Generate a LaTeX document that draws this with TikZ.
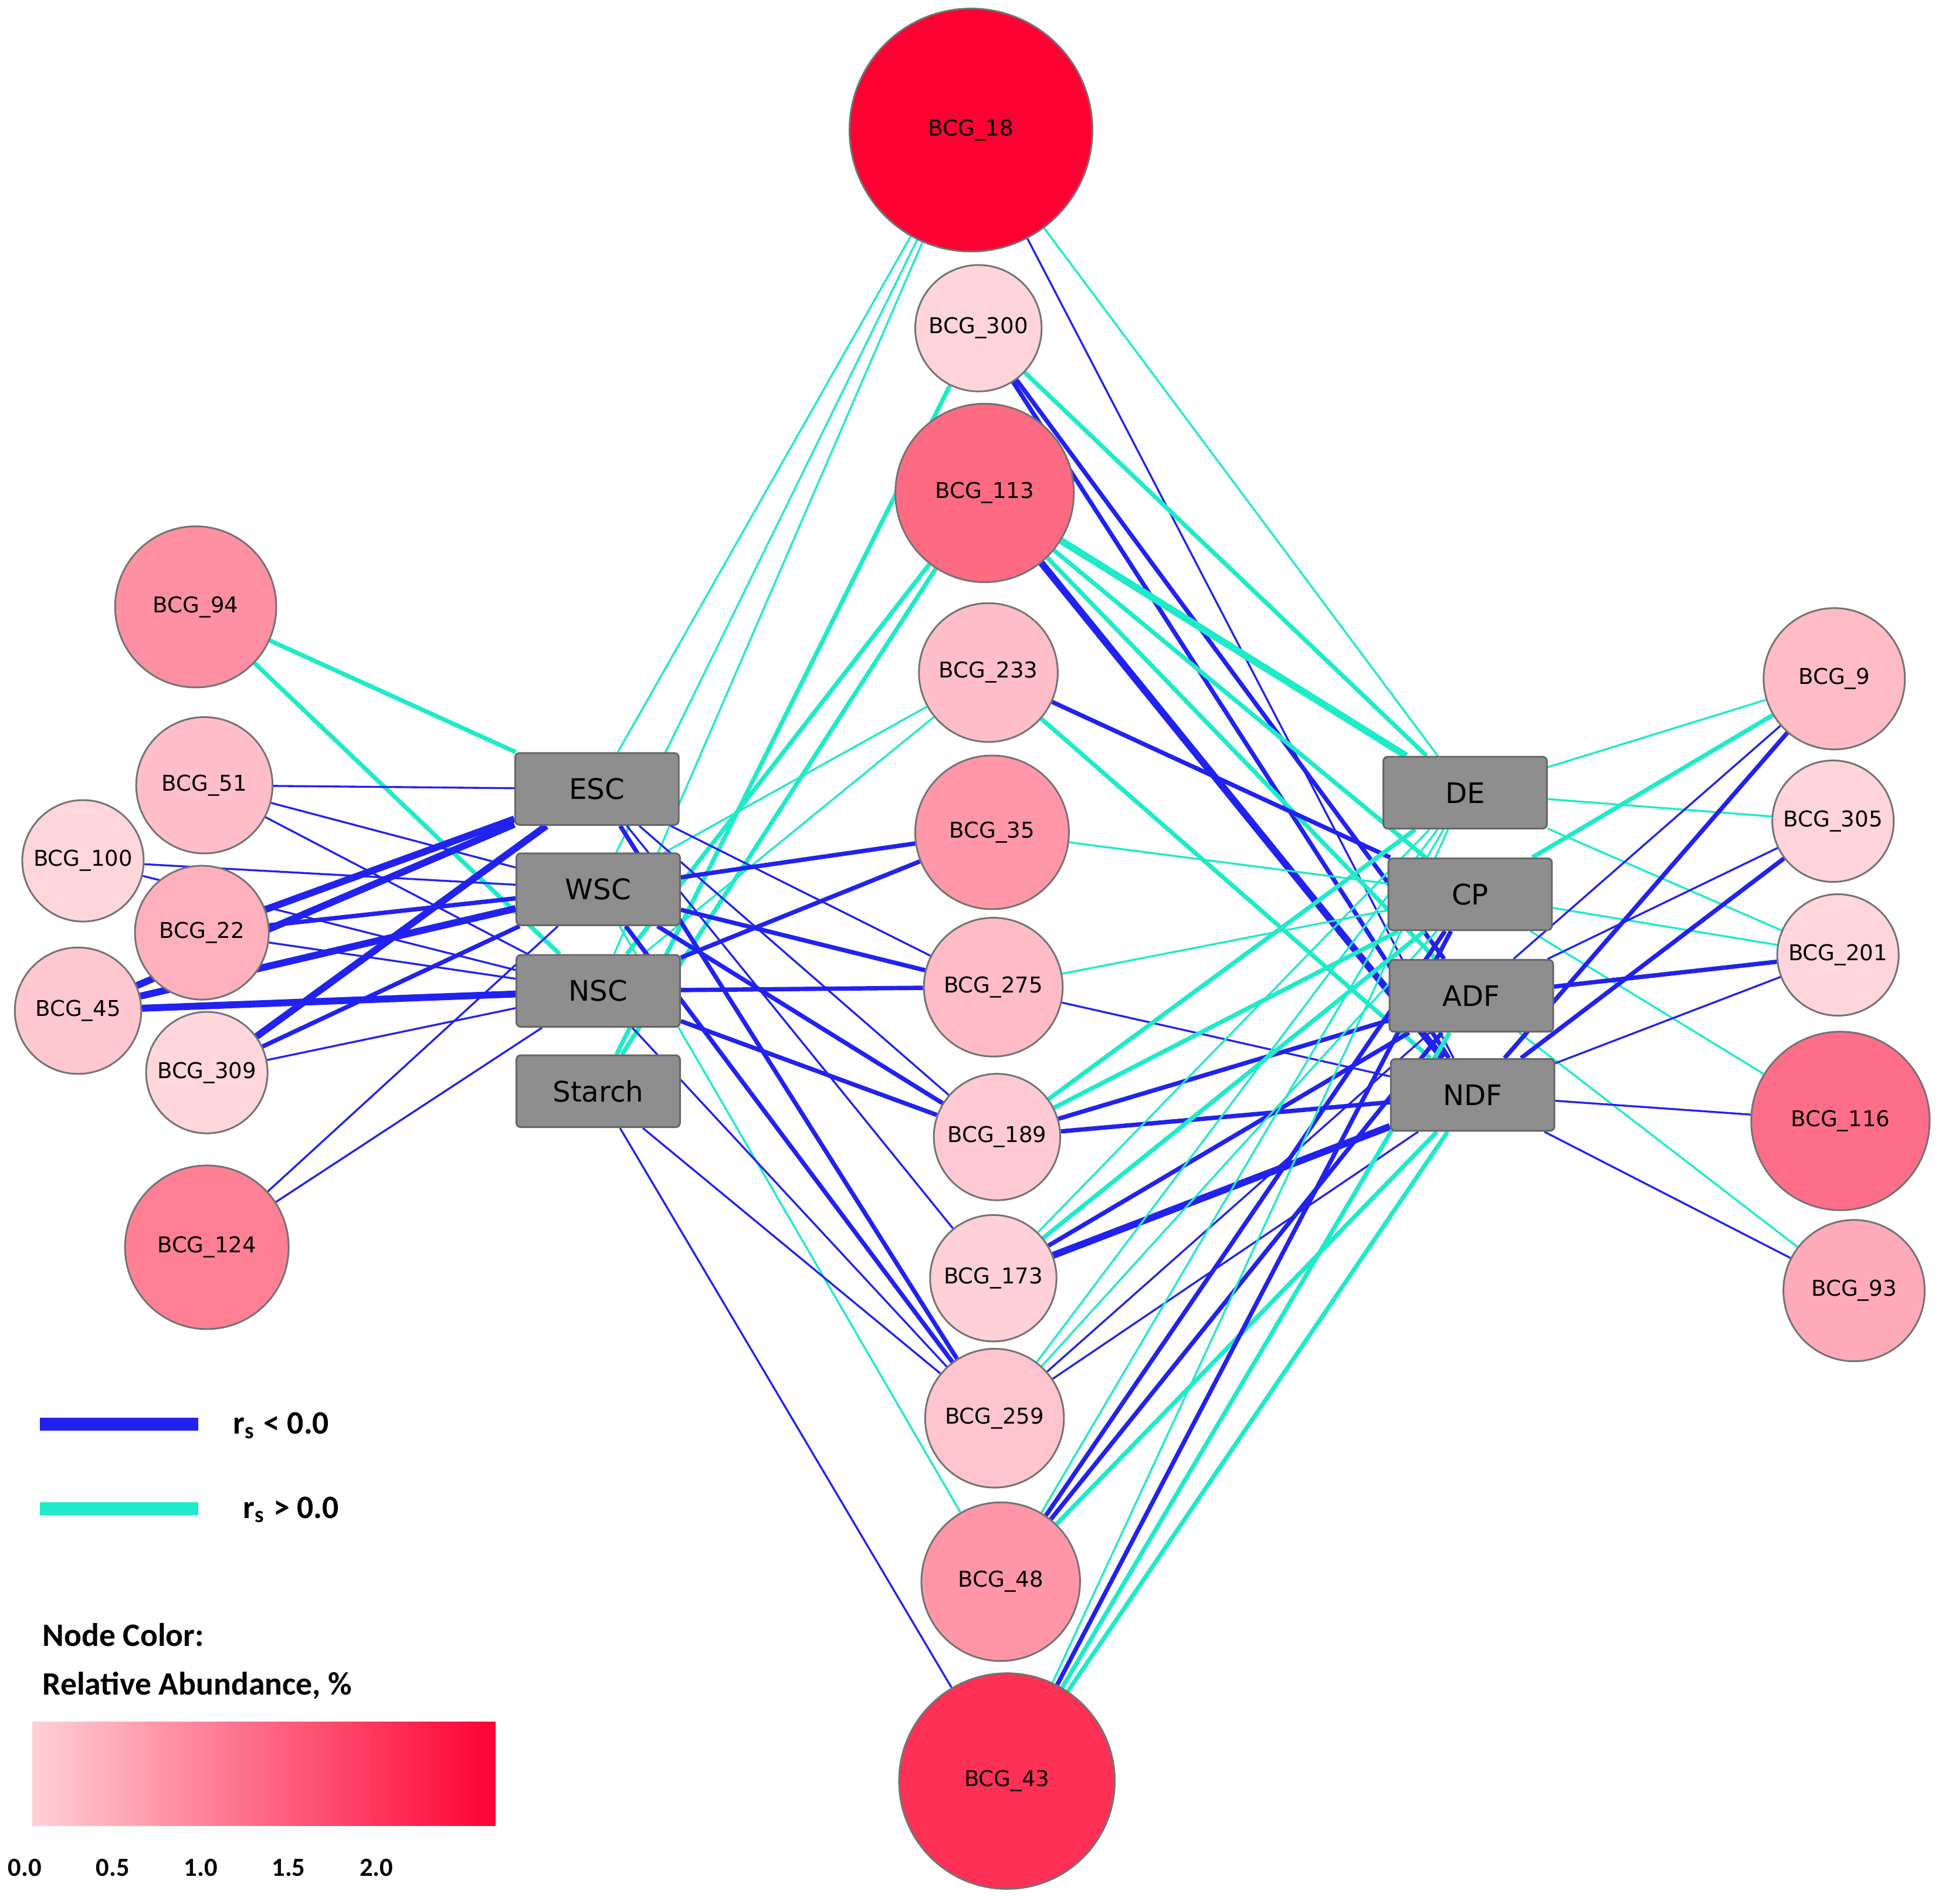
\documentclass[tikz,border=0pt]{standalone}
\usepackage{fontspec}
\setmainfont{DejaVu Sans}
\newfontfamily\leg{Carlito}
\usetikzlibrary{backgrounds}
\definecolor{eblue}{HTML}{2222F0}
\definecolor{ecyan}{HTML}{1EEBC8}
\definecolor{boxg}{HTML}{8E8E8E}
\tikzset{
 c/.style={circle,draw=black!55,line width=0.4pt,inner sep=0pt,font=\fontsize{5}{6}\selectfont},
 bx/.style={rectangle,rounded corners=1pt,draw=black!60,fill=boxg,minimum width=1.32cm,minimum height=0.58cm,font=\fontsize{6.5}{7}\selectfont},
 b1/.style={eblue,line width=0.45pt},
 b2/.style={eblue,line width=1pt},
 b3/.style={eblue,line width=1.6pt},
 c1/.style={ecyan,line width=0.45pt},
 c2/.style={ecyan,line width=1pt},
 c3/.style={ecyan,line width=1.6pt},
 lt/.style={font=\leg\bfseries\fontsize{7.5}{8}\selectfont,anchor=west}
}
\begin{document}
\begin{tikzpicture}[x=0.01cm,y=-0.01cm]
\useasboundingbox (0,0) rectangle (1568,1537);
% center nodes
\node[c,fill={rgb,255:red,255;green,0;blue,51},minimum size=1.96cm] (n18) at (784,105) {BCG\_18};
\node[c,fill={rgb,255:red,255;green,212;blue,219},minimum size=1.02cm] (n300) at (790,265) {BCG\_300};
\node[c,fill={rgb,255:red,255;green,106;blue,131},minimum size=1.44cm] (n113) at (795,398) {BCG\_113};
\node[c,fill={rgb,255:red,255;green,190;blue,201},minimum size=1.12cm] (n233) at (798,543) {BCG\_233};
\node[c,fill={rgb,255:red,255;green,151;blue,168},minimum size=1.24cm] (n35) at (801,672) {BCG\_35};
\node[c,fill={rgb,255:red,255;green,188;blue,199},minimum size=1.12cm] (n275) at (802,797) {BCG\_275};
\node[c,fill={rgb,255:red,255;green,202;blue,211},minimum size=1.02cm] (n189) at (805,918) {BCG\_189};
\node[c,fill={rgb,255:red,255;green,208;blue,216},minimum size=1.02cm] (n173) at (802,1032) {BCG\_173};
\node[c,fill={rgb,255:red,255;green,196;blue,206},minimum size=1.12cm] (n259) at (803,1145) {BCG\_259};
\node[c,fill={rgb,255:red,255;green,150;blue,167},minimum size=1.28cm] (n48) at (808,1277) {BCG\_48};
\node[c,fill={rgb,255:red,255;green,48;blue,86},minimum size=1.74cm] (n43) at (813,1438) {BCG\_43};
% left
\node[c,fill={rgb,255:red,255;green,143;blue,162},minimum size=1.30cm] (n94) at (158,490) {BCG\_94};
\node[c,fill={rgb,255:red,255;green,190;blue,201},minimum size=1.10cm] (n51) at (165,634) {BCG\_51};
\node[c,fill={rgb,255:red,255;green,214;blue,220},minimum size=0.98cm] (n100) at (67,695) {BCG\_100};
\node[c,fill={rgb,255:red,255;green,176;blue,189},minimum size=1.08cm] (n22) at (163,753) {BCG\_22};
\node[c,fill={rgb,255:red,255;green,200;blue,209},minimum size=1.02cm] (n45) at (63,816) {BCG\_45};
\node[c,fill={rgb,255:red,255;green,214;blue,220},minimum size=0.98cm] (n309) at (167,866) {BCG\_309};
\node[c,fill={rgb,255:red,255;green,128;blue,149},minimum size=1.32cm] (n124) at (167,1007) {BCG\_124};
% right
\node[c,fill={rgb,255:red,255;green,188;blue,199},minimum size=1.14cm] (n9) at (1481,548) {BCG\_9};
\node[c,fill={rgb,255:red,255;green,212;blue,219},minimum size=0.98cm] (n305) at (1480,663) {BCG\_305};
\node[c,fill={rgb,255:red,255;green,214;blue,220},minimum size=0.98cm] (n201) at (1484,771) {BCG\_201};
\node[c,fill={rgb,255:red,255;green,110;blue,136},minimum size=1.44cm] (n116) at (1486,905) {BCG\_116};
\node[c,fill={rgb,255:red,255;green,170;blue,184},minimum size=1.14cm] (n93) at (1497,1042) {BCG\_93};
% boxes
\node[bx] (ESC) at (482,637) {ESC};
\node[bx] (WSC) at (483,718) {WSC};
\node[bx] (NSC) at (483,800) {NSC};
\node[bx] (Starch) at (483,881) {Starch};
\node[bx] (DE) at (1183,640) {DE};
\node[bx] (CP) at (1187,722) {CP};
\node[bx] (ADF) at (1188,804) {ADF};
\node[bx] (NDF) at (1189,884) {NDF};
\begin{scope}[on background layer]
\foreach \a/\b/\s in {
 n94/ESC/c2, n94/NSC/c2,
 n51/ESC/b1, n51/WSC/b1, n51/NSC/b1,
 n100/WSC/b1, n100/NSC/b1,
 n22/ESC/b3, n22/WSC/b2, n22/NSC/b1,
 n45/ESC/b3, n45/WSC/b3, n45/NSC/b3,
 n309/ESC/b3, n309/WSC/b2, n309/NSC/b1,
 n124/WSC/b1, n124/NSC/b1,
 ESC/n18/c1, WSC/n18/c1, NSC/n18/c1,
 NSC/n113/c2, Starch/n113/c2, Starch/n300/c2,
 WSC/n233/c1, NSC/n233/c1,
 ESC/n275/b1, ESC/n173/b1, ESC/n259/b2, ESC/n189/b1,
 WSC/n35/b2, WSC/n275/b2, WSC/n189/b2, WSC/n259/b2, WSC/n48/c1,
 NSC/n35/b2, NSC/n275/b2, NSC/n189/b2, NSC/n259/b1,
 Starch/n259/b1, Starch/n43/b1,
 n18/DE/c1, n18/NDF/b1,
 n300/DE/c2, n300/ADF/b2, n300/NDF/b2,
 n113/DE/c3, n113/CP/c2, n113/NDF/b3, n113/ADF/b1, n113/ADF/c2,
 n233/CP/b2, n233/NDF/c2,
 n35/CP/c1, n275/CP/c1, n275/NDF/b1,
 n189/DE/c2, n189/CP/c2, n189/ADF/b2, n189/NDF/b2,
 n173/CP/c2, n173/ADF/b2, n173/NDF/b3, n173/DE/c1,
 n259/CP/c1, n259/ADF/b1, n259/NDF/b1, n259/DE/c1,
 n48/CP/b2, n48/ADF/b2, n48/NDF/c2, n48/DE/c1,
 n43/CP/b2, n43/ADF/c2, n43/NDF/c2, n43/DE/c1,
 DE/n9/c1, DE/n305/c1, DE/n201/c1,
 CP/n9/c2, CP/n201/c1, CP/n116/c1,
 ADF/n9/b1, ADF/n305/b1, ADF/n201/b2, ADF/n93/c1,
 NDF/n9/b2, NDF/n305/b2, NDF/n201/b1, NDF/n116/b1, NDF/n93/b1}
 \draw[\s] (\a) -- (\b);
\end{scope}
% legend
\coordinate (lb1) at (32,1150); \coordinate (lb2) at (160,1150);
\coordinate (lc1) at (32,1218); \coordinate (lc2) at (160,1218);
\draw[eblue,line width=3pt] (lb1) -- (lb2);
\draw[ecyan,line width=3pt] (lc1) -- (lc2);
\node[lt] (t1) at (176,1151) {r\textsubscript{s} < 0.0};
\node[lt] (t2) at (184,1219) {r\textsubscript{s} > 0.0};
\node[lt] (t3) at (22,1320) {Node Color:};
\node[lt] (t4) at (22,1361) {Relative Abundance, \%};
\shade[left color={rgb,255:red,255;green,208;blue,213},right color={rgb,255:red,255;green,0;blue,51}] (26,1390) rectangle (400,1474);
\foreach \v/\x in {0.0/20,0.5/91,1.0/162,1.5/233,2.0/304}
 \node[font=\leg\bfseries\fontsize{6}{7}\selectfont] at (\x,1508) {\v};
\end{tikzpicture}
\end{document}
